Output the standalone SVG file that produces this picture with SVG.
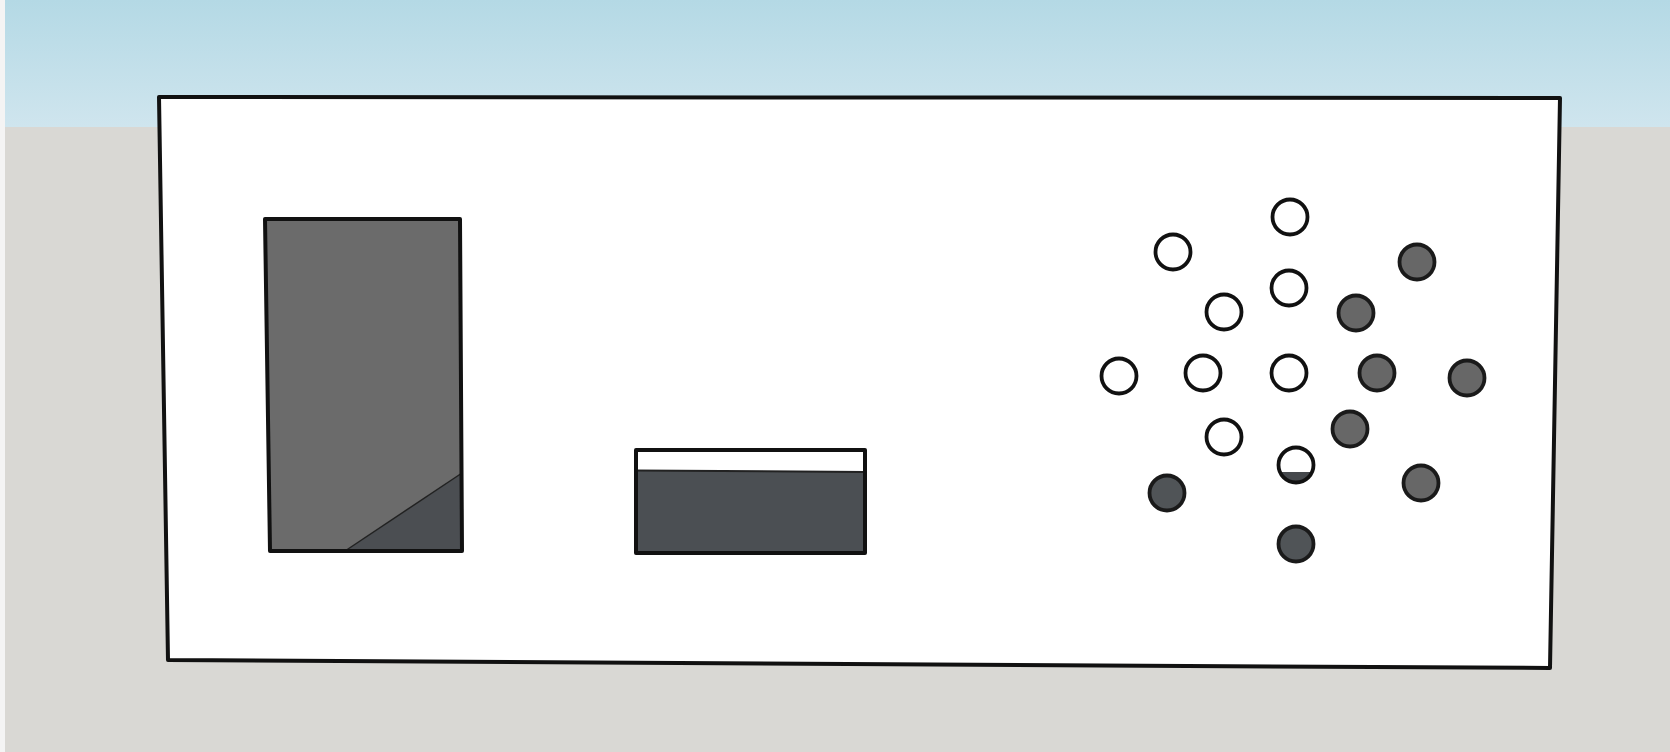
<svg xmlns="http://www.w3.org/2000/svg" width="1670" height="752" viewBox="0 0 1670 752">
  <defs>
    <linearGradient id="sky" x1="0" y1="0" x2="0" y2="1">
      <stop offset="0" stop-color="#b4d9e5"/>
      <stop offset="1" stop-color="#cfe5ee"/>
    </linearGradient>
    <clipPath id="hc"><circle cx="1296" cy="465" r="17"/></clipPath>
    <style>
      .edge{stroke:#111;stroke-width:4;stroke-linejoin:round}
      .hole{fill:#fff;stroke:#111;stroke-width:3.8}
      .ring{fill:none;stroke:#111;stroke-width:3.8}
      .peg{fill:#676767;stroke:#1a1a1a;stroke-width:3.8}
      .peg2{fill:#505457;stroke:#1a1a1a;stroke-width:3.8}
    </style>
  </defs>
  <rect x="0" y="0" width="1670" height="127" fill="url(#sky)"/>
  <rect x="0" y="127" width="1670" height="625" fill="#d9d8d4"/>
  <rect x="0" y="0" width="5" height="752" fill="#f4f4f4"/>

  <g id="panel">
    <polygon class="edge" points="159,97 1560,98 1550,668 168,660" fill="#fff"/>
  </g>

  <g id="tall-block">
    <polygon points="265,219 460,219 462,551 270,551" fill="#6b6b6b"/>
    <polygon points="345,551 462,473 462,551" fill="#4b4e52"/>
    <line x1="345" y1="551" x2="462" y2="473" stroke="#222" stroke-width="1.5"/>
    <polygon class="edge" points="265,219 460,219 462,551 270,551" style="fill:none"/>
  </g>

  <g id="low-block">
    <rect x="636" y="450" width="229" height="103" fill="#4b4f53"/>
    <polygon points="636,450 865,450 865,472 733,472 728,470 636,470" fill="#fff"/>
    <line x1="636" y1="470.5" x2="865" y2="472" stroke="#222" stroke-width="2"/>
    <rect class="edge" x="636" y="450" width="229" height="103" style="fill:none"/>
  </g>

  <g id="holes">
    <circle class="hole" cx="1290" cy="217" r="17.5"/>
    <circle class="hole" cx="1173" cy="252" r="17.5"/>
    <circle class="hole" cx="1289" cy="288" r="17.5"/>
    <circle class="hole" cx="1224" cy="312" r="17.5"/>
    <circle class="hole" cx="1119" cy="376" r="17.5"/>
    <circle class="hole" cx="1203" cy="373" r="17.5"/>
    <circle class="hole" cx="1289" cy="373" r="17.5"/>
    <circle class="hole" cx="1224" cy="437" r="17.5"/>
  </g>

  <g id="half-peg">
    <circle cx="1296" cy="465" r="17.5" fill="#fff"/>
    <rect x="1276" y="472" width="40" height="16" fill="#45484c" clip-path="url(#hc)"/>
    <circle class="ring" cx="1296" cy="465" r="17.5"/>
  </g>

  <g id="pegs">
    <circle class="peg" cx="1417" cy="262" r="17.5"/>
    <circle class="peg" cx="1356" cy="313" r="17.5"/>
    <circle class="peg" cx="1377" cy="373" r="17.5"/>
    <circle class="peg" cx="1467" cy="378" r="17.5"/>
    <circle class="peg" cx="1350" cy="429" r="17.5"/>
    <circle class="peg2" cx="1167" cy="493" r="17.5"/>
    <circle class="peg" cx="1421" cy="483" r="17.5"/>
    <circle class="peg2" cx="1296" cy="544" r="17.5"/>
  </g>
</svg>
